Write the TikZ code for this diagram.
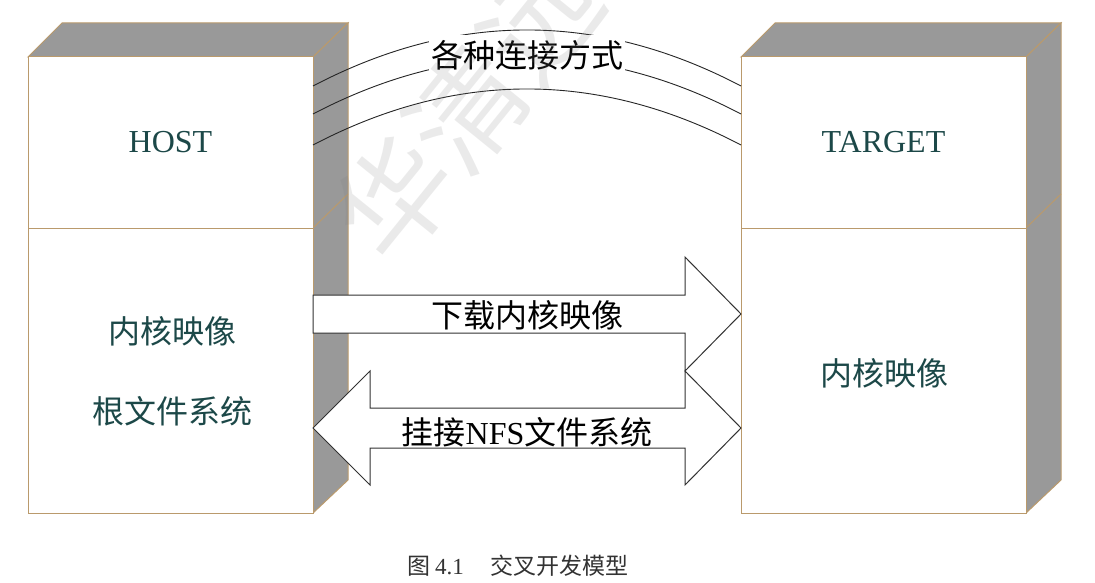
\documentclass[tikz,border=0pt]{standalone}
\usepackage{fontspec}
\setmainfont{Liberation Serif}
\newfontfamily\cjk{Noto Sans CJK SC}
\usetikzlibrary{calc}
\definecolor{edgetan}{RGB}{186,154,108}
\definecolor{sidegray}{RGB}{153,153,153}
\definecolor{labteal}{RGB}{28,72,72}
\definecolor{arrline}{RGB}{50,50,50}
\tikzset{
  face/.style={draw=edgetan, line width=1pt, fill=white, inner sep=0pt, outer sep=0pt},
  shade3d/.style={draw=edgetan, line width=1pt, fill=sidegray},
  boxlabel/.style={text=labteal, font=\fontsize{32}{38}\selectfont, inner sep=0pt},
  cjklabel/.style={text=labteal, font=\cjk\fontsize{32}{38}\selectfont, inner sep=0pt},
  arrlabel/.style={text=black, font=\cjk\fontsize{32}{38}\selectfont, inner sep=0pt},
  bigarrow/.style={draw=arrline, line width=1pt, fill=white, line join=miter},
  linkline/.style={draw=black!85, line width=0.9pt},
}
\begin{document}
\begin{tikzpicture}[x=1pt,y=-1pt]
\useasboundingbox (0,0) rectangle (1095,583);
\fill[white] (0,0) rectangle (1095,583);
% ---------- HOST ----------
\draw[shade3d] (28,57) -- (62,23) -- (348,23) -- (313,57) -- cycle;
\draw[shade3d] (313,57) -- (348,23) -- (348,480) -- (313,513) -- cycle;
\draw[draw=edgetan, line width=1pt] (313,228) -- (348,194);
\node[face, minimum width=285pt, minimum height=171pt] (hostup) at (170.5,142.5) {};
\node[face, minimum width=285pt, minimum height=285pt] (hostlow) at (170.5,370.5) {};
\node[boxlabel] (hostname) at (hostup.center) {HOST};
\node[cjklabel] (hostk) at (172,331) {内核映像};
\node[cjklabel] (hostfs) at (172,411) {根文件系统};
% ---------- TARGET ----------
\draw[shade3d] (741,57) -- (775,23) -- (1061,23) -- (1026,57) -- cycle;
\draw[shade3d] (1026,57) -- (1061,23) -- (1061,480) -- (1026,513) -- cycle;
\draw[draw=edgetan, line width=1pt] (1026,228) -- (1061,194);
\node[face, minimum width=285pt, minimum height=171pt] (tgtup) at (883.5,142.5) {};
\node[face, minimum width=285pt, minimum height=285pt] (tgtlow) at (883.5,370.5) {};
\node[boxlabel] (tgtname) at (tgtup.center) {TARGET};
\node[cjklabel] (tgtk) at (884,373) {内核映像};
% ---------- connection arcs ----------
\foreach \dy/\nm in {-56.5/a, -28.5/b, 2.5/c}{
  \coordinate (h\nm) at ($(hostup.east)+(0,\dy)$);
  \coordinate (t\nm) at ($(tgtup.west)+(0,\dy)$);
  \draw[linkline] (h\nm) .. controls +(142.7,-74.7) and +(-142.7,-74.7) .. (t\nm);
}
\node[fill=white, inner sep=0pt, minimum width=196pt, minimum height=40pt, font=\cjk\fontsize{32}{38}\selectfont] (conn) at (527,55) {各种连接方式};
% ---------- arrow 1 ----------
\coordinate (a1L) at ($(hostlow.east)+(0,-56.5)$);
\coordinate (a1T) at ($(tgtlow.west)+(0,-56.5)$);
\draw[bigarrow] ($(a1L)+(0,-19)$) -- ($(a1T)+(-56,-19)$) -- ($(a1T)+(-56,-57)$) -- (a1T)
  -- ($(a1T)+(-56,57)$) -- ($(a1T)+(-56,19)$) -- ($(a1L)+(0,19)$) -- cycle;
\node[arrlabel] (dl) at ($(a1L)!0.5!(a1T)+(0,1)$) {下载内核映像};
% ---------- arrow 2 ----------
\coordinate (a2L) at ($(hostlow.east)+(0,57.5)$);
\coordinate (a2R) at ($(tgtlow.west)+(0,57.5)$);
\draw[bigarrow] (a2L) -- ($(a2L)+(57,-57)$) -- ($(a2L)+(57,-20)$) -- ($(a2R)+(-56,-20)$)
  -- ($(a2R)+(-56,-57)$) -- (a2R) -- ($(a2R)+(-56,57)$) -- ($(a2R)+(-56,20)$)
  -- ($(a2L)+(57,20)$) -- ($(a2L)+(57,57)$) -- cycle;
\node[arrlabel] (nfs) at ($(a2L)!0.5!(a2R)+(0,4)$) {挂接{\rmfamily\fontsize{32}{38}\selectfont NFS}文件系统};
% ---------- caption ----------
\node[text=black!80, font=\cjk\fontsize{23}{27}\selectfont, inner sep=0pt] (cap) at (518,566)
  {图\hspace{5pt}{\rmfamily 4.1}\hspace{27pt}交叉开发模型};
% ---------- watermark ----------
\begin{scope}
\clip (0,0) rectangle (1095,583);
\node[rotate=51, anchor=west, text=gray, opacity=0.16, font=\cjk\fontsize{115}{120}\selectfont, inner sep=0pt] (wm) at (358,243) {华清远见};
\end{scope}
\end{tikzpicture}
\end{document}
